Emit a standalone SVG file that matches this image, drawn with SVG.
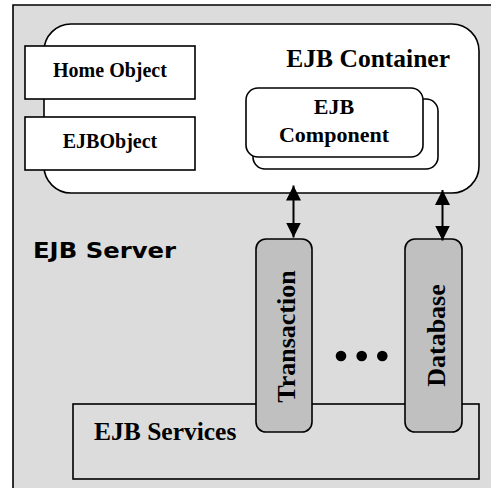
<svg xmlns="http://www.w3.org/2000/svg" width="491" height="489" viewBox="0 0 491 489">
<style>
.box{fill:#ffffff;stroke:#000;stroke-width:1.6}
.t{font-family:"Liberation Serif","Times New Roman",serif;font-weight:bold;fill:#000}
.pillar{fill:#c0c0c0;stroke:#000;stroke-width:1.6}
.conn{stroke:#000;stroke-width:2;fill:none}
</style>
<defs>
<marker id="ah" viewBox="0 0 15 15" refX="15" refY="7.5" markerUnits="userSpaceOnUse" markerWidth="15" markerHeight="15" orient="auto-start-reverse">
<path d="M0,0 L15,7.5 L0,15 z" fill="#000"/>
</marker>
</defs>
<rect width="491" height="489" fill="#ffffff"/>
<g id="ejb-server">
<rect x="13" y="5" width="480" height="483" fill="#dcdcdc"/>
<path d="M13,488 V5 H491" fill="none" stroke="#000" stroke-width="1.6"/>
<text x="33" y="257.5" font-family="'DejaVu Sans',sans-serif" font-weight="bold" font-size="21" textLength="143" lengthAdjust="spacingAndGlyphs">EJB Server</text>
</g>
<g id="ejb-container">
<rect class="box" x="44" y="24" width="435" height="169" rx="27" ry="27"/>
<text class="t" x="450" y="66.5" font-size="25.5" text-anchor="end">EJB Container</text>
</g>
<g id="home-object">
<rect class="box" x="25" y="46" width="170" height="53"/>
<text class="t" x="110" y="77" font-size="20" text-anchor="middle">Home Object</text>
</g>
<g id="ejb-object">
<rect class="box" x="25" y="117" width="170" height="53"/>
<text class="t" x="110" y="147.5" font-size="20" text-anchor="middle">EJBObject</text>
</g>
<g id="ejb-component">
<rect class="box" x="253" y="99" width="185" height="70" rx="12" ry="12"/>
<rect class="box" x="246" y="88" width="177" height="69" rx="12" ry="12"/>
<text class="t" x="334" y="114" font-size="22" text-anchor="middle">EJB</text>
<text class="t" x="334" y="141.5" font-size="22" text-anchor="middle">Component</text>
</g>
<g id="ejb-services">
<rect x="73" y="404" width="406" height="75" fill="#dcdcdc" stroke="#000" stroke-width="1.6"/>
<text class="t" x="94" y="440" font-size="25.5">EJB Services</text>
</g>
<g id="transaction">
<rect class="pillar" x="256" y="239" width="56" height="193" rx="10" ry="10"/>
<text class="t" font-size="26" text-anchor="middle" transform="translate(294.5,336.5) rotate(-90)">Transaction</text>
</g>
<g id="database">
<rect class="pillar" x="405" y="239" width="57" height="193" rx="10" ry="10"/>
<text class="t" font-size="26" text-anchor="middle" transform="translate(444.5,335.5) rotate(-90)">Database</text>
</g>
<g id="ellipsis">
<circle cx="341" cy="356" r="5.3" fill="#000"/>
<circle cx="361.7" cy="356" r="5.3" fill="#000"/>
<circle cx="382.3" cy="356" r="5.3" fill="#000"/>
</g>
<g id="connectors">
<line class="conn" x1="293.5" y1="185.5" x2="293.5" y2="237.5" marker-start="url(#ah)" marker-end="url(#ah)"/>
<line class="conn" x1="442.5" y1="190" x2="442.5" y2="240.5" marker-start="url(#ah)" marker-end="url(#ah)"/>
</g>
</svg>
